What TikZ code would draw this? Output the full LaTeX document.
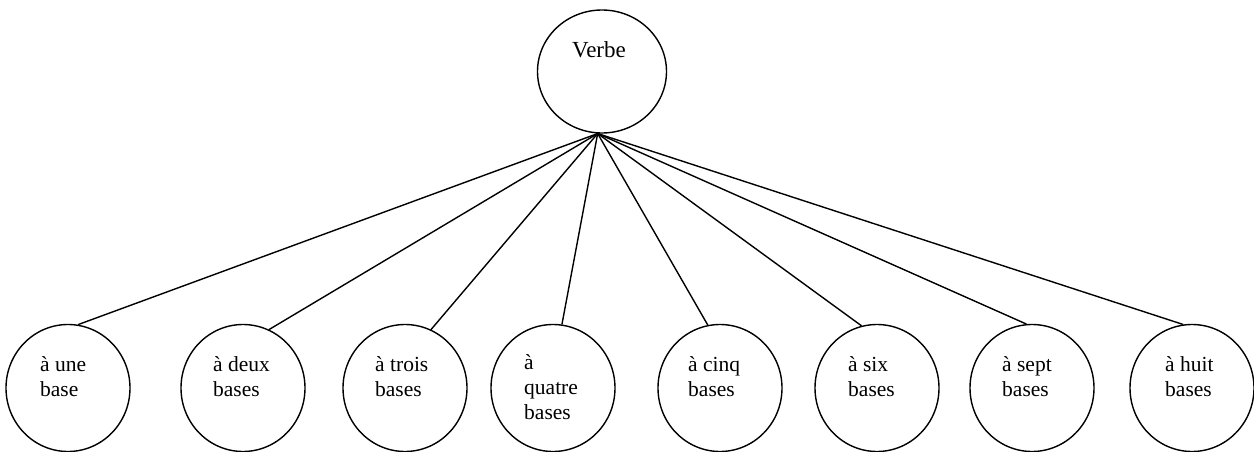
\documentclass[tikz,border=0pt]{standalone}
\usepackage{fontspec}
\setmainfont{Liberation Serif}
\usetikzlibrary{shapes.geometric}
\begin{document}
\begin{tikzpicture}[x=1pt,y=-1pt,
  bub/.style={draw, ellipse, line width=1.4pt, minimum width=124pt, minimum height=127pt, inner sep=0pt},
  lbl/.style={anchor=base west, inner sep=0pt, font=\fontsize{21.5}{25}\selectfont},
  link/.style={line width=1.4pt}]
\useasboundingbox (0,0) rectangle (1254,452);
% top
\node[bub, minimum width=129pt, minimum height=123pt] (v) at (602,71.5) {};
\node[lbl, font=\fontsize{23}{27}\selectfont] (tv) at (572,58) {Verbe};
% bottom circles
\node[bub] (c1) at (68,388) {};
\node[bub] (c2) at (243,388) {};
\node[bub] (c3) at (405,388) {};
\node[bub] (c4) at (553,388) {};
\node[bub] (c5) at (720,388) {};
\node[bub] (c6) at (877,388) {};
\node[bub] (c7) at (1032,388) {};
\node[bub] (c8) at (1192,388) {};
% labels
\node[lbl] (t1) at (40,371) {\begin{tabular}[t]{@{}l@{}}à une\\base\end{tabular}};
\node[lbl] (t2) at (213,371) {\begin{tabular}[t]{@{}l@{}}à deux\\bases\end{tabular}};
\node[lbl] (t3) at (375,371) {\begin{tabular}[t]{@{}l@{}}à trois\\bases\end{tabular}};
\node[lbl] (t4) at (524,369) {\begin{tabular}[t]{@{}l@{}}à\\quatre\\bases\end{tabular}};
\node[lbl] (t5) at (688,371) {\begin{tabular}[t]{@{}l@{}}à cinq\\bases\end{tabular}};
\node[lbl] (t6) at (848,371) {\begin{tabular}[t]{@{}l@{}}à six\\bases\end{tabular}};
\node[lbl] (t7) at (1002,371) {\begin{tabular}[t]{@{}l@{}}à sept\\bases\end{tabular}};
\node[lbl] (t8) at (1165,371) {\begin{tabular}[t]{@{}l@{}}à huit\\bases\end{tabular}};
% connectors
\draw[link] (v.266) -- (c1.81);
\draw[link] (v.266) -- (c2.66);
\draw[link] (v.266) -- (c3.66);
\draw[link] (v.266) -- (c4.82);
\draw[link] (v.266) -- (c5.101);
\draw[link] (v.266) -- (c6.104);
\draw[link] (v.266) -- (c7.95);
\draw[link] (v.266) -- (c8.98);
\end{tikzpicture}
\end{document}
